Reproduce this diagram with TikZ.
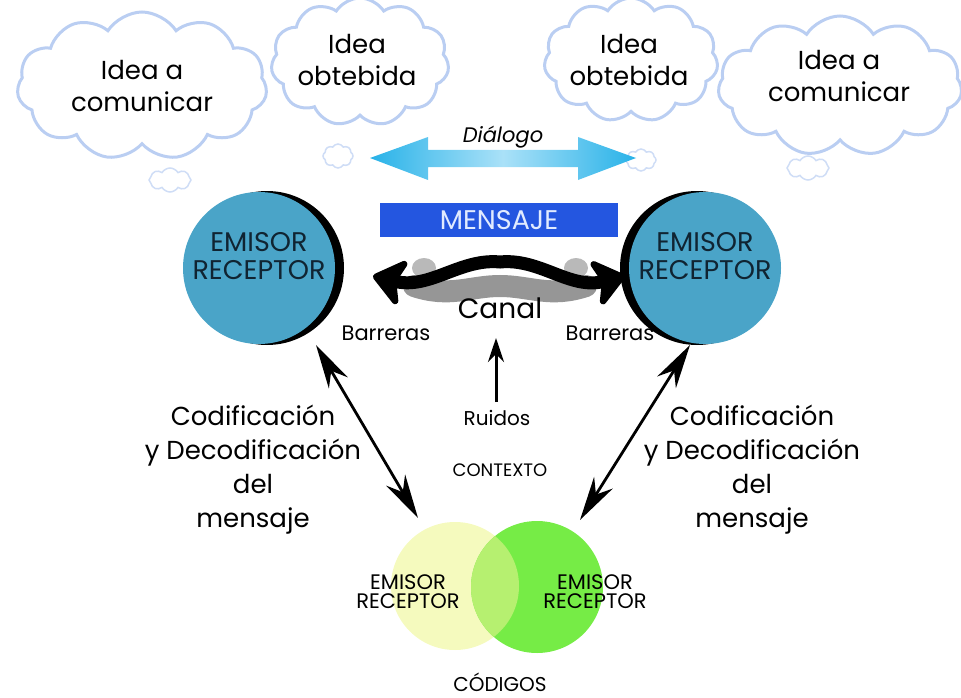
\documentclass[tikz,border=0pt]{standalone}
\usepackage{fontspec}
\setmainfont{Poppins}
\usetikzlibrary{shapes.symbols,arrows.meta}
\definecolor{cloudline}{RGB}{186,206,242}
\definecolor{circblue}{RGB}{74,164,200}
\definecolor{circtext}{RGB}{16,36,50}
\definecolor{dlgblue}{RGB}{40,178,232}
\definecolor{dlglight}{RGB}{170,225,248}
\definecolor{msgblue}{RGB}{36,86,224}
\definecolor{msgtext}{RGB}{225,235,255}
\definecolor{venny}{RGB}{245,250,190}
\definecolor{venng}{RGB}{118,236,70}
\definecolor{vennmix}{RGB}{182,240,112}
\definecolor{shadowgray}{RGB}{150,150,150}
\definecolor{shadowlight}{RGB}{185,185,185}
\newcommand{\fsb}[2]{\fontsize{#1}{#2}\selectfont}
\tikzset{
  thought/.style={cloud, cloud puffs=11, cloud puff arc=115, aspect=1.6,
    draw=cloudline, line width=3pt, fill=white, align=center, inner sep=0pt},
  cloudtext/.style={align=center, inner sep=0pt, font=\fsb{26}{32}},
  puff/.style={cloud, cloud puffs=8, cloud puff arc=120,
    draw=cloudline!70, line width=1.5pt, fill=white, inner sep=0pt},
  label/.style={align=center, inner sep=0pt, text=black},
  barb/.tip={Stealth[length=44pt,width=22pt,inset=14pt]},
  bigtip/.tip={Stealth[length=36pt,width=56pt,inset=10pt,round]},
  twoway/.style={line width=2.8pt, barb-barb},
  wavy/.style={line width=13pt, bigtip-bigtip},
}
\begin{document}
\begin{tikzpicture}[x=1pt,y=-1pt]
\useasboundingbox (0,0) rectangle (961,698);

% thought clouds
\node[thought, minimum width=250pt, minimum height=148pt] (c1) at (142,86) {};
\node[cloudtext] (t1) at (c1) {Idea a\\comunicar};
\node[thought, minimum width=178pt, minimum height=128pt] (c2) at (360,62) {};
\node[cloudtext] (t2) at (357,60) {Idea\\obtebida};
\node[thought, minimum width=174pt, minimum height=124pt] (c3) at (631,60) {};
\node[cloudtext] (t3) at (629,60) {Idea\\obtebida};
\node[thought, minimum width=244pt, minimum height=140pt] (c4) at (840,86) {};
\node[cloudtext] (t4) at (839,76) {Idea a\\comunicar};
\node[puff, minimum width=42pt, minimum height=24pt] (p1) at (170,180) {};
\node[puff, minimum width=30pt, minimum height=24pt] (p2) at (338,156) {};
\node[puff, minimum width=30pt, minimum height=22pt] (p3) at (641,160) {};
\node[puff, minimum width=42pt, minimum height=24pt] (p4) at (808,168) {};

% dialogue arrow
\shade[left color=dlgblue, right color=dlgblue, middle color=dlglight]
  (370,158) -- (428,137) -- (428,150) -- (578,150) -- (578,137) -- (636,158)
  -- (578,180) -- (578,167) -- (428,167) -- (428,180) -- cycle;
\node[label, font=\fsb{21}{24}\itshape] (dlg) at (503,137) {Diálogo};

% sender / receiver circles with their black rims
\fill[black] (267,268) circle (77);
\fill[circblue] (259,268) circle (76);
\node[label, text=circtext, font=\fsb{27}{28}] (er1) at (259,256) {EMISOR\\RECEPTOR};
\fill[black] (697,268) circle (77);
\fill[circblue] (705,268) circle (76);
\node[label, text=circtext, font=\fsb{27}{28}] (er2) at (705,256) {EMISOR\\RECEPTOR};

% message bar
\node[fill=msgblue, minimum width=238pt, minimum height=34pt, inner sep=0pt,
  text=msgtext, font=\fsb{27}{28}] (msg) at (499,220) {MENSAJE};

% channel: shadow and wavy double arrow
\coordinate (chl) at (373,276);
\coordinate (chr) at (625,276);
\fill[shadowlight] (424,268) ellipse (12 and 10);
\fill[shadowlight] (576,268) ellipse (12 and 10);
\draw[line width=22pt, shadowgray, line cap=round]
  (414,286) .. controls (450,298) and (470,286) .. (500,286)
  .. controls (530,286) and (550,298) .. (586,286);
\draw[wavy] (chl) .. controls (430,290) and (460,258) .. (500,262)
  .. controls (540,258) and (570,290) .. (chr);
\node[label, font=\fsb{28}{30}] (canal) at (500,308) {Canal};
\node[label, font=\fsb{21}{22}] (bar1) at (386,333) {Barreras};
\node[label, font=\fsb{21}{22}] (bar2) at (610,333) {Barreras};

% noise
\node[label, font=\fsb{20}{22}] (ruido) at (497,418) {Ruidos};
\coordinate (rb) at (496,402);
\coordinate (rt) at (496,338);
\draw[line width=3pt, -{Stealth[length=24pt,width=16pt,inset=8pt]}] (rb) -- (rt);
\node[label, font=\fsb{18}{20}] (ctx) at (500,470) {CONTEXTO};

% encoding labels
\node[label, font=\fsb{26}{34}] (cod1) at (253,470) {Codificación\\y Decodificación\\del\\mensaje};
\node[label, font=\fsb{26}{34}] (cod2) at (752,470) {Codificación\\y Decodificación\\del\\mensaje};

% codes (Venn)
\fill[venny] (455,586) circle (64);
\fill[venng] (537,587) circle (66);
\begin{scope}
  \clip (455,586) circle (64);
  \fill[vennmix] (537,587) circle (66);
\end{scope}
\node[label, font=\fsb{21}{19}] (v1) at (408,592) {EMISOR\\RECEPTOR};
\node[label, font=\fsb{21}{19}] (v2) at (595,592) {EMISOR\\RECEPTOR};
\node[label, font=\fsb{20}{22}] (cods) at (500,682) {CÓDIGOS};

% encoding arrows
\coordinate (a1) at (316,345);
\coordinate (a2) at (418,518);
\coordinate (b1) at (690,345);
\coordinate (b2) at (580,520);
\draw[twoway] (a1) -- (a2);
\draw[twoway] (b1) -- (b2);
\end{tikzpicture}
\end{document}
